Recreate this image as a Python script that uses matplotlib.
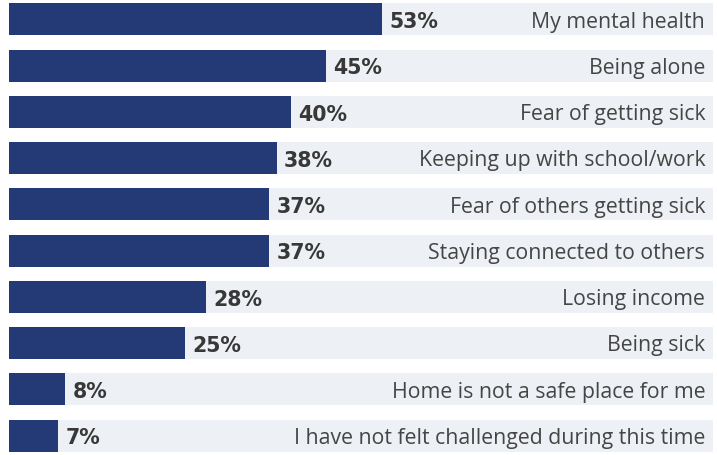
import matplotlib.pyplot as plt

# data
categories = [
    "My mental health",
    "Being alone",
    "Fear of getting sick",
    "Keeping up with school/work",
    "Fear of others getting sick",
    "Staying connected to others",
    "Losing income",
    "Being sick",
    "Home is not a safe place for me",
    "I have not felt challenged during this time",
]
values = [53, 45, 40, 38, 37, 37, 28, 25, 8, 7]

plt.rcParams['font.family'] = ['Open Sans', 'DejaVu Sans']

fig = plt.figure(figsize=(7.17, 4.56), dpi=100)
ax = fig.add_axes([0, 0, 1, 1])

pos = list(range(len(categories)))
bar_h = 0.69

# fond gris clair sur toute la largeur
ax.barh(pos, [100] * len(pos), height=bar_h, color='#edf0f4', zorder=1)
ax.barh(pos, values, height=bar_h, color='#233a76', zorder=2)

for p, v, c in zip(pos, values, categories):
    ax.text(v + 1.0, p + 0.04, f"{v}%", va='center', ha='left', fontsize=14.8,
            fontweight='bold', color='#383838', zorder=3,
            family='DejaVu Sans')
    ax.text(98.9, p + 0.04, c, va='center', ha='right', fontsize=15.3,
            color='#454545', zorder=3)

ax.set_xlim(-1.28, 100.57)
ax.set_ylim(9.42, -0.44)
ax.axis('off')

fig.savefig('out.png', dpi=100, facecolor='white')
